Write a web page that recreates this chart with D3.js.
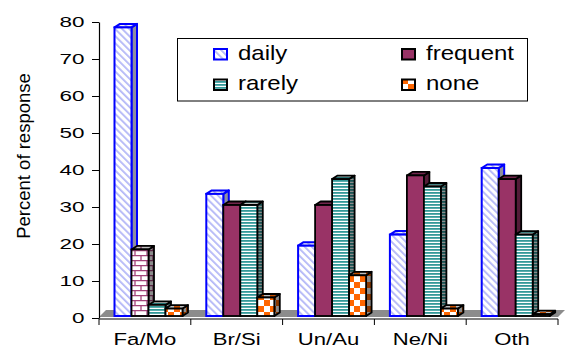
<!DOCTYPE html>
<html>
<head>
<meta charset="utf-8">
<script src="https://cdn.jsdelivr.net/npm/d3@7/dist/d3.min.js"></script>
<style>
body { margin: 0; background: #ffffff; }
text { font-family: "Liberation Sans", Arial, sans-serif; fill: #000; }
</style>
</head>
<body>
<div id="chart"></div>
<script>
//Data
var categories = ["Fa/Mo", "Br/Si", "Un/Au", "Ne/Ni", "Oth"];
var seriesNames = ["daily", "frequent", "rarely", "none"];
var daily = [78, 33, 19, 22, 40];
var frequent = [18, 30, 30, 38, 37];
var rarely = [3, 30, 37, 35, 22];
var none = [2, 5, 11, 2, 0.5];
var yTicks = [0, 10, 20, 30, 40, 50, 60, 70, 80];

//Global variables
var width = 568;
var height = 349;
var depthX = 5.5;
var depthY = 3.5;

var seriesValues = [daily, frequent, rarely, none];
var seriesFill = ["url(#hatch)", "#993366", "url(#stripes)", "url(#checker)"];
var seriesStroke = ["#0000ff", "#000000", "#000000", "#000000"];

var svg = d3.select("#chart")
.append("svg")
.attr("width", width)
.attr("height", height);

//Fill patterns
var defs = svg.append("defs");

var hatch = defs.append("pattern")
.attr("id", "hatch")
.attr("patternUnits", "userSpaceOnUse")
.attr("width", 5).attr("height", 5)
.attr("patternTransform", "rotate(-45)");
hatch.append("rect").attr("width", 5).attr("height", 5).attr("fill", "#ffffff");
hatch.append("rect").attr("width", 1.8).attr("height", 5).attr("fill", "#b3b7f7");

var stripes = defs.append("pattern")
.attr("id", "stripes")
.attr("patternUnits", "userSpaceOnUse")
.attr("width", 6).attr("height", 3);
stripes.append("rect").attr("width", 6).attr("height", 3).attr("fill", "#ffffff");
stripes.append("rect").attr("width", 6).attr("height", 1.8).attr("fill", "#339999");

var checker = defs.append("pattern")
.attr("id", "checker")
.attr("patternUnits", "userSpaceOnUse")
.attr("width", 12).attr("height", 12);
checker.append("rect").attr("width", 12).attr("height", 12).attr("fill", "#ffffff");
checker.append("rect").attr("width", 6).attr("height", 6).attr("fill", "#ff6600");
checker.append("rect").attr("x", 6).attr("y", 6).attr("width", 6).attr("height", 6).attr("fill", "#ff6600");

var brick = defs.append("pattern")
.attr("id", "brick")
.attr("patternUnits", "userSpaceOnUse")
.attr("width", 12).attr("height", 10);
brick.append("rect").attr("width", 12).attr("height", 10).attr("fill", "#ffffff");
brick.append("path")
.attr("d", "M0,0.6H12M0,5.6H12M3,0.6V5.6M9,5.6V10")
.attr("stroke", "#a3447a").attr("stroke-width", 1.3).attr("fill", "none");

//Scales
var xScale = d3.scaleBand()
.domain(categories)
.range([99, 558])
.padding(0);

var innerScale = d3.scaleBand()
.domain(seriesNames)
.range([15.5, 83.5])
.padding(0);

var yScale = d3.scaleLinear()
.domain([0, 80])
.range([318, 22]);

//Gray floor
var floorY = yScale(0) - 1;
svg.append("path")
.attr("d", "M" + xScale.range()[0] + "," + floorY +
	"L" + xScale.range()[1] + "," + floorY +
	"L" + (xScale.range()[1] + 7) + "," + (floorY - 7) +
	"L" + (xScale.range()[0] + 7) + "," + (floorY - 7) + "Z")
.attr("fill", "#8c8c8c");

//Draw bars, left to right so each front hides the previous side
var bars = svg.append("g");
categories.forEach(function(cat, ci) {
	seriesNames.forEach(function(name, si) {
		var v = seriesValues[si][ci];
		var x = xScale(cat) + innerScale(name);
		var w = innerScale.bandwidth();
		var yb = yScale(0) - 2;
		var yt = yScale(v) - 2;
		var fill = seriesFill[si];
		if (ci == 0 && name == "frequent") fill = "url(#brick)"; //special bar in the picture
		var stroke = seriesStroke[si];
		var sw = si == 0 ? 2 : 1.8;
		var g = bars.append("g");

		var side = "M" + (x + w) + "," + yt + "L" + (x + w + depthX) + "," + (yt - depthY) +
			"L" + (x + w + depthX) + "," + (yb - depthY) + "L" + (x + w) + "," + yb + "Z";
		var top = "M" + x + "," + yt + "L" + (x + depthX) + "," + (yt - depthY) +
			"L" + (x + w + depthX) + "," + (yt - depthY) + "L" + (x + w) + "," + yt + "Z";

		g.append("path").attr("d", side).attr("fill", si == 0 ? "#8f8f9f" : fill);
		g.append("path").attr("d", side).attr("fill", "#000").attr("fill-opacity", si == 0 ? 0 : 0.45);
		g.append("path").attr("d", side).attr("fill", "none").attr("stroke", stroke).attr("stroke-width", sw).attr("stroke-linejoin", "round");

		g.append("path").attr("d", top).attr("fill", fill);
		g.append("path").attr("d", top).attr("fill", "#000").attr("fill-opacity", si == 0 ? 0.05 : 0.25);
		g.append("path").attr("d", top).attr("fill", "none").attr("stroke", stroke).attr("stroke-width", sw).attr("stroke-linejoin", "round");

		g.append("rect")
		.attr("x", x).attr("y", yt)
		.attr("width", w).attr("height", yb - yt)
		.attr("fill", fill)
		.attr("stroke", stroke)
		.attr("stroke-width", sw);
	});
});

//Y axis
var yAxis = d3.axisLeft(yScale)
.tickValues(yTicks)
.tickSize(7)
.tickSizeOuter(0);

var yG = svg.append("g")
.attr("transform", "translate(99,0)")
.call(yAxis);
yG.select(".domain").attr("stroke", "#000").attr("stroke-width", 1.2);
yG.selectAll(".tick line").attr("stroke", "#000");
yG.selectAll(".tick text")
.attr("x", -10)
.attr("transform", "scale(1.45,1)")
.attr("font-size", 15.5)
.attr("font-family", "Liberation Sans, Arial, sans-serif");

//Y axis title
svg.append("text")
.attr("transform", "translate(29.5,156) rotate(-90)")
.attr("text-anchor", "middle")
.attr("font-size", 18.5)
.text("Percent of response");

//X axis line with ticks between categories
var axisY = 319;
svg.append("line")
.attr("x1", xScale.range()[0]).attr("x2", xScale.range()[1])
.attr("y1", axisY).attr("y2", axisY)
.attr("stroke", "#000").attr("stroke-width", 1.2);

var bounds = categories.map(function(c) { return xScale(c); }).concat([xScale.range()[1]]);
svg.selectAll(".xtick")
.data(bounds)
.enter()
.append("line")
.attr("x1", function(d) { return d; })
.attr("x2", function(d) { return d; })
.attr("y1", axisY).attr("y2", axisY + 6)
.attr("stroke", "#000");

svg.selectAll(".catLabel")
.data(categories)
.enter()
.append("text")
.attr("transform", function(d) {
	return "translate(" + (xScale(d) + xScale.bandwidth() / 2) + ",345) scale(1.3,1)";
})
.attr("text-anchor", "middle")
.attr("font-size", 17)
.text(function(d) { return d; });

//Legend
var legend = svg.append("g");
legend.append("rect")
.attr("x", 177.5).attr("y", 38.5)
.attr("width", 350).attr("height", 62.5)
.attr("fill", "#fff")
.attr("stroke", "#000");

var legendPos = [[213, 59.5], [401, 59.5], [213, 90], [401, 90]];
seriesNames.forEach(function(name, si) {
	var p = legendPos[si];
	legend.append("rect")
	.attr("x", p[0] + 1).attr("y", p[1] - 10.5)
	.attr("width", 13).attr("height", 10.5)
	.attr("fill", seriesFill[si])
	.attr("stroke", seriesStroke[si])
	.attr("stroke-width", 2);
	legend.append("text")
	.attr("transform", "translate(" + (p[0] + 25) + "," + p[1] + ") scale(1.2,1)")
	.attr("font-size", 20)
	.text(name);
});
</script>
</body>
</html>
